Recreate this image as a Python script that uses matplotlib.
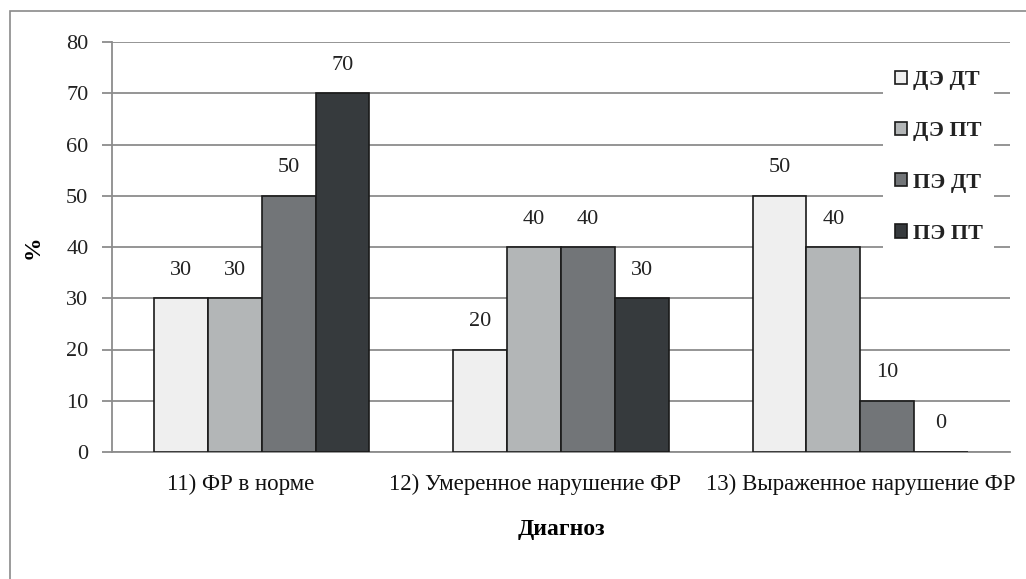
import matplotlib
matplotlib.use("Agg")
import matplotlib.pyplot as plt
import matplotlib.transforms as mtransforms
from matplotlib.patches import Rectangle
import numpy as np

plt.rcParams['font.family'] = ['Liberation Serif', 'DejaVu Serif']

categories = ["11) ФР в норме", "12) Умеренное нарушение ФР", "13) Выраженное нарушение ФР"]
series_names = ["ДЭ ДТ", "ДЭ ПТ", "ПЭ ДТ", "ПЭ ПТ"]
de_dt = [30, 20, 50]
de_pt = [30, 40, 40]
pe_dt = [50, 40, 10]
pe_pt = [70, 30, 0]
colors = ["#efefef", "#b3b6b7", "#727578", "#363a3d"]

series = [de_dt, de_pt, pe_dt, pe_pt]

fig = plt.figure(figsize=(10.26, 5.79), dpi=100)
ax = fig.add_axes([112 / 1026, 1 - 452 / 579, 898 / 1026, 410 / 579])

# рамка вокруг рисунка
fig.patches.append(Rectangle((10 / 1026, -0.1), 1.2, 1 - 11 / 579 + 0.1,
                             transform=fig.transFigure, fill=False,
                             edgecolor="#8a8a8a", linewidth=1.2))

x = np.arange(len(categories))
w = 0.18
for i, (vals, name, c) in enumerate(zip(series, series_names, colors)):
    pos = x + (i - 1.5) * w
    ax.bar(pos, vals, w, color=c, edgecolor="#1a1a1a", linewidth=1.2,
           label=name, zorder=3)
    for xp, v in zip(pos, vals):
        ax.annotate(str(v), (xp, v), xytext=(0, 28), textcoords="offset pixels",
                    ha="center", va="center", fontsize=16, color="#222222")

ax.set_xlim(-0.5, 2.5)
ax.set_ylim(0, 80)
ax.set_yticks(range(0, 81, 10))
ax.yaxis.grid(True, color="#8c8c8c", linewidth=1.3, zorder=0)
ax.set_axisbelow(True)
for s in ["top", "right"]:
    ax.spines[s].set_visible(False)
ax.spines["left"].set_color("#8c8c8c")
ax.spines["bottom"].set_color("#8c8c8c")
ax.spines["left"].set_linewidth(1.3)
ax.spines["bottom"].set_linewidth(1.3)
ax.tick_params(axis="y", length=7, width=1.3, color="#8c8c8c", labelsize=16,
               labelcolor="#222222", pad=10)
ax.set_xticks(x)
ax.set_xticklabels(categories, fontsize=16.5, color="#111111")
ax.tick_params(axis="x", length=0, pad=16)

# подписи категорий смещены как в исходнике
for lbl, dx in zip(ax.get_xticklabels(), [-21, -26, 0]):
    lbl.set_transform(lbl.get_transform() +
                      mtransforms.ScaledTranslation(dx / 100, 0, fig.dpi_scale_trans))

ax.set_ylabel("%", fontsize=17, fontweight="bold", labelpad=16)
ax.set_xlabel("Диагноз", fontsize=17, fontweight="bold", labelpad=17)

leg = ax.legend(loc="upper right", bbox_to_anchor=(0.995, 0.985), frameon=True,
                fancybox=False, edgecolor="none", facecolor="white", framealpha=1,
                handlelength=0.55, handleheight=0.55, handletextpad=0.3,
                labelspacing=1.4, borderpad=0.5,
                prop={"size": 16, "weight": "bold"})
for h in leg.legend_handles:
    h.set_edgecolor("#1a1a1a")
for t in leg.get_texts():
    t.set_color("#222222")

fig.savefig("out.png", dpi=100)
